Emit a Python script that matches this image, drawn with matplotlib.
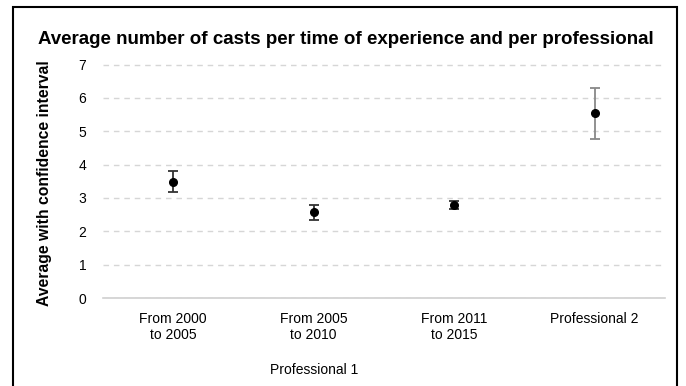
import matplotlib.pyplot as plt
from matplotlib.patches import Rectangle

# data
categories = ["From 2000\nto 2005", "From 2005\nto 2010", "From 2011\nto 2015", "Professional 2"]
means = [3.48, 2.57, 2.78, 5.55]
err_low = [0.30, 0.22, 0.12, 0.78]
err_high = [0.32, 0.22, 0.12, 0.76]
yticks = [0, 1, 2, 3, 4, 5, 6, 7]

plt.rcParams['font.family'] = ['Liberation Sans', 'DejaVu Sans']

fig = plt.figure(figsize=(6.86, 3.86), dpi=100)
ax = fig.add_axes([103 / 686, 1 - 298 / 386, 562 / 686, 235 / 386])

x = list(range(len(categories)))
for i in x:
    col = "#888888" if i == 3 else "#333333"
    ax.errorbar(i, means[i], yerr=[[err_low[i]], [err_high[i]]], fmt="o",
                color="black", ecolor=col, elinewidth=1.3, capsize=3.5,
                capthick=1.3, markersize=5.5, zorder=3)

ax.set_xlim(-0.5, 3.5)
ax.set_ylim(0, 7.05)
ax.set_yticks(yticks)
ax.set_yticklabels([str(t) for t in yticks], fontsize=10)
ax.set_xticks(x)
ax.set_xticklabels(categories, fontsize=10)
ax.tick_params(axis="x", length=0, pad=10)
ax.tick_params(axis="y", length=0, pad=12)

ax.yaxis.grid(True, linestyle=(0, (4, 3.5)), color="#d6d6d6", linewidth=1)
ax.set_axisbelow(True)
for s in ["top", "right", "left"]:
    ax.spines[s].set_visible(False)
ax.spines["bottom"].set_color("#d0d0d0")
ax.spines["bottom"].set_linewidth(1.2)

fig.text(314 / 686, 1 - 370 / 386, "Professional 1", ha="center", va="center", fontsize=10)
fig.text(346 / 686, 1 - 40 / 386, "Average number of casts per time of experience and per professional",
         ha="center", va="center", fontsize=13.5, fontweight="bold")
fig.text(45 / 686, 1 - 183 / 386, "Average with confidence interval", rotation=90,
         ha="center", va="center", fontsize=11.3, fontweight="bold")

fig.patches.append(Rectangle((13 / 686, -0.1), (677 - 13) / 686, 1 - 7 / 386 + 0.1,
                             transform=fig.transFigure, fill=False, edgecolor="black",
                             linewidth=1.5))

fig.savefig("out.png", dpi=100)
